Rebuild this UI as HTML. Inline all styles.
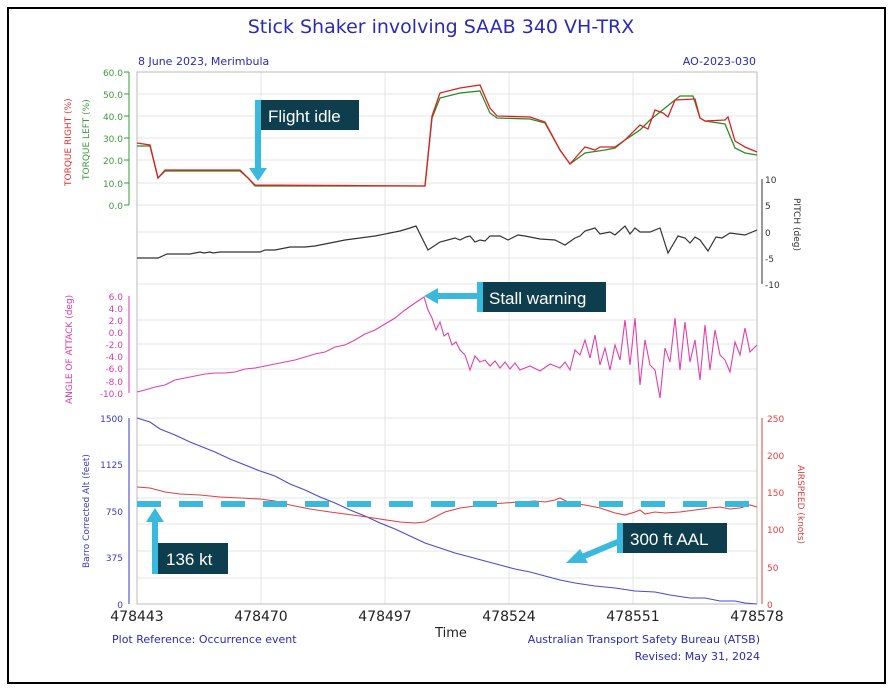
<!DOCTYPE html>
<html><head><style>
body{margin:0;background:#fff;}
svg text{font-family:"DejaVu Sans",sans-serif;}
svg text.ann{font-family:"Liberation Sans",sans-serif;}
</style></head><body>
<svg width="894" height="690" viewBox="0 0 894 690" xmlns="http://www.w3.org/2000/svg">
<rect x="0" y="0" width="894" height="690" fill="#fff"/>
<rect x="8" y="8" width="877" height="675" fill="none" stroke="#000" stroke-width="2"/>
<text x="441" y="33" font-size="19" fill="#2a2ab8" text-anchor="middle">Stick Shaker involving SAAB 340 VH-TRX</text>
<text x="138" y="65" font-size="11" fill="#2a2ab8">8 June 2023, Merimbula</text>
<text x="756" y="65" font-size="11" fill="#2a2ab8" text-anchor="end">AO-2023-030</text>
<g stroke="#e6e6e6" stroke-width="1">
<line x1="261" y1="72" x2="261" y2="604"/><line x1="385" y1="72" x2="385" y2="604"/>
<line x1="509" y1="72" x2="509" y2="604"/><line x1="633" y1="72" x2="633" y2="604"/>
<line x1="137" y1="94" x2="757" y2="94"/><line x1="137" y1="116" x2="757" y2="116"/><line x1="137" y1="138" x2="757" y2="138"/><line x1="137" y1="160" x2="757" y2="160"/><line x1="137" y1="183" x2="757" y2="183"/><line x1="137" y1="205" x2="757" y2="205"/>
<line x1="137" y1="232" x2="757" y2="232"/><line x1="137" y1="258" x2="757" y2="258"/><line x1="137" y1="284" x2="757" y2="284"/>
<line x1="137" y1="320" x2="757" y2="320"/><line x1="137" y1="344" x2="757" y2="344"/><line x1="137" y1="369" x2="757" y2="369"/>
<line x1="137" y1="418" x2="757" y2="418"/><line x1="137" y1="445" x2="757" y2="445"/><line x1="137" y1="471" x2="757" y2="471"/><line x1="137" y1="498" x2="757" y2="498"/><line x1="137" y1="524" x2="757" y2="524"/><line x1="137" y1="551" x2="757" y2="551"/><line x1="137" y1="578" x2="757" y2="578"/>
</g>
<rect x="137" y="72" width="620" height="532" fill="none" stroke="#bbb" stroke-width="1"/>
<g fill="#3a9a3a" font-size="9" text-anchor="end">
<text x="123" y="76">60.0</text><text x="123" y="98">50.0</text><text x="123" y="120">40.0</text><text x="123" y="142">30.0</text><text x="123" y="164">20.0</text><text x="123" y="187">10.0</text><text x="123" y="209">0.0</text>
</g>
<line x1="129" y1="72" x2="129" y2="205" stroke="#3a9a3a"/>
<g stroke="#3a9a3a"><line x1="124" y1="72" x2="129" y2="72"/><line x1="124" y1="94" x2="129" y2="94"/><line x1="124" y1="116" x2="129" y2="116"/><line x1="124" y1="138" x2="129" y2="138"/><line x1="124" y1="160" x2="129" y2="160"/><line x1="124" y1="183" x2="129" y2="183"/><line x1="124" y1="205" x2="129" y2="205"/></g>
<text transform="translate(89,180) rotate(-90)" font-size="9" fill="#3a9a3a">TORQUE LEFT (%)</text>
<text transform="translate(71,186) rotate(-90)" font-size="9" fill="#e03030">TORQUE RIGHT (%)</text>
<line x1="762" y1="179" x2="762" y2="284" stroke="#333"/>
<g font-size="9" fill="#333"><text x="765" y="183">10</text><text x="765" y="209">5</text><text x="765" y="236">0</text><text x="765" y="262">-5</text><text x="765" y="288">-10</text></g>
<text transform="translate(794,198) rotate(90)" font-size="9" fill="#333">PITCH (deg)</text>
<line x1="129" y1="296" x2="129" y2="393" stroke="#d63aa8"/>
<g font-size="9" fill="#d63aa8" text-anchor="end"><text x="123" y="300">6.0</text><text x="123" y="312">4.0</text><text x="123" y="324">2.0</text><text x="123" y="336">0.0</text><text x="123" y="348">-2.0</text><text x="123" y="360">-4.0</text><text x="123" y="372">-6.0</text><text x="123" y="385">-8.0</text><text x="123" y="397">-10.0</text></g>
<text transform="translate(72,404) rotate(-90)" font-size="9" fill="#d63aa8">ANGLE OF ATTACK (deg)</text>
<line x1="129" y1="418" x2="129" y2="604" stroke="#3a3ac0"/>
<g font-size="9" fill="#3a3ac0" text-anchor="end"><text x="123" y="422">1500</text><text x="123" y="468">1125</text><text x="123" y="515">750</text><text x="123" y="561">375</text><text x="123" y="608">0</text></g>
<text transform="translate(89,568) rotate(-90)" font-size="9" fill="#3a3ac0">Barro Corrected Alt (feet)</text>
<line x1="762" y1="418" x2="762" y2="604" stroke="#e04040"/>
<g font-size="9" fill="#e04040"><text x="767" y="422">250</text><text x="767" y="459">200</text><text x="767" y="496">150</text><text x="767" y="533">100</text><text x="767" y="571">50</text><text x="767" y="608">0</text></g>
<text transform="translate(798,465) rotate(90)" font-size="9" fill="#e04040">AIRSPEED (knots)</text>
<g font-size="14" fill="#222" text-anchor="middle"><text x="137" y="621">478443</text><text x="261" y="621">478470</text><text x="385" y="621">478497</text><text x="509" y="621">478524</text><text x="633" y="621">478551</text><text x="757" y="621">478578</text></g>
<text x="451" y="637" font-size="13" fill="#222" text-anchor="middle">Time</text>
<text x="112" y="643" font-size="11" fill="#2a2ab8">Plot Reference: Occurrence event</text>
<text x="760" y="643" font-size="11" fill="#2a2ab8" text-anchor="end">Australian Transport Safety Bureau (ATSB)</text>
<text x="760" y="660" font-size="11" fill="#2a2ab8" text-anchor="end">Revised: May 31, 2024</text>
<polyline fill="none" stroke="#2a8a2a" stroke-width="1.3" points="137,146 150,146 158,178 165,171 240,171 248,178 255,186 425,186 432,118 440,98 460,93 480,91 490,113 497,118 530,119 545,123 560,150 570,164 585,153 605,150 615,148 625,140 640,130 650,120 665,108 680,96 693,96 700,118 705,121 725,124 735,148 745,153 757,155"/>
<polyline fill="none" stroke="#e02020" stroke-width="1.3" points="137,143 150,145 158,178 165,170 240,170 248,178 255,185 425,186 432,116 440,93 460,88 480,85 490,108 497,116 530,117 545,122 560,150 570,164 585,147 595,150 600,147 615,147 625,140 640,125 648,129 655,110 663,113 668,117 675,100 695,99 700,118 705,121 725,120 728,117 735,141 745,147 757,152"/>
<polyline fill="none" stroke="#333" stroke-width="1.2" points="137,258 158,258 167,254 190,254 200,252 204,253 210,252 213,253 220,252 260,252 265,250 275,250 290,247 305,247 315,246 330,243 345,240 360,238 375,236 390,233 400,231 410,228 416,226 428,250 440,242 455,238 460,240 466,237 470,236 475,242 480,240 485,241 490,236 500,236 508,240 518,235 525,236 530,237 540,239 555,240 565,245 575,238 580,236 585,231 595,228 600,234 610,232 615,235 625,226 630,234 635,228 640,232 650,232 660,228 668,253 678,236 685,238 690,243 695,237 700,240 708,251 716,237 722,238 730,233 745,235 757,230"/>
<polyline fill="none" stroke="#e040a8" stroke-width="1.1" points="137,392 145,390 155,387 165,385 175,380 185,378 195,376 205,374 215,373 225,373 235,372 245,369 255,368 265,366 275,364 285,362 295,360 305,357 315,354 325,352 335,347 345,345 355,340 365,334 375,330 385,324 395,318 405,310 415,303 424,297 428,310 432,318 436,330 440,322 444,336 448,333 452,345 456,342 460,350 465,355 470,370 475,356 480,362 485,360 490,366 495,361 500,368 505,362 510,369 515,363 520,370 530,366 540,371 550,364 560,368 565,362 570,370 575,350 580,355 585,340 590,358 595,335 600,365 605,348 610,370 615,345 620,360 625,320 630,365 635,318 640,385 645,340 650,365 655,370 660,398 665,348 670,362 675,318 680,370 685,322 690,362 695,340 700,380 705,325 710,370 715,330 720,355 725,360 730,372 735,342 740,355 745,328 750,352 757,345"/>
<polyline fill="none" stroke="#4a4ad0" stroke-width="1.1" points="137,418 150,422 160,429 175,435 190,442 200,446 215,452 230,459 245,465 260,471 275,476 290,484 305,490 320,497 335,503 350,510 365,516 380,523 395,529 410,536 425,543 440,548 455,553 470,557 485,561 500,565 515,569 530,572 545,576 560,580 575,583 595,586 615,588 635,591 655,592 670,595 690,598 705,598 720,601 735,601 745,603 757,604"/>
<polyline fill="none" stroke="#e04040" stroke-width="1.1" points="137,487 150,488 165,492 180,494 200,495 220,497 240,498 260,499 275,501 290,505 310,509 330,512 345,514 360,516 380,519 400,522 415,523 425,522 435,517 445,512 460,508 475,506 490,504 505,503 520,502 535,501 545,502 555,500 560,498 570,503 585,505 600,508 615,513 625,515 635,512 640,510 645,514 655,512 665,513 680,512 695,510 710,508 720,507 730,509 740,508 750,505 757,507"/>
<line x1="137" y1="504" x2="757" y2="504" stroke="#3bb9dd" stroke-width="6" stroke-dasharray="24,18"/>
<rect x="255" y="100" width="6" height="70" fill="#3bb9dd"/>
<polygon points="249,168 267,168 258,181" fill="#3bb9dd"/>
<rect x="261" y="100" width="98" height="30" fill="#0e3d4d"/>
<text class="ann" x="268" y="122" font-size="17" fill="#fff">Flight idle</text>
<rect x="436" y="293" width="44" height="6" fill="#3bb9dd"/>
<polygon points="438,288 438,304 424,296" fill="#3bb9dd"/>
<rect x="477" y="282" width="6" height="30" fill="#3bb9dd"/>
<rect x="483" y="282" width="123" height="30" fill="#0e3d4d"/>
<text class="ann" x="489" y="304" font-size="17" fill="#fff">Stall warning</text>
<line x1="620" y1="541" x2="582" y2="557" stroke="#3bb9dd" stroke-width="6"/>
<polygon points="580,549 588,563 566,563" fill="#3bb9dd"/>
<rect x="617" y="523" width="6" height="30" fill="#3bb9dd"/>
<rect x="623" y="523" width="104" height="30" fill="#0e3d4d"/>
<text class="ann" x="630" y="545" font-size="17" fill="#fff">300 ft AAL</text>
<rect x="152" y="520" width="6" height="54" fill="#3bb9dd"/>
<polygon points="146,522 164,522 155,508" fill="#3bb9dd"/>
<rect x="158" y="543" width="70" height="31" fill="#0e3d4d"/>
<text class="ann" x="166" y="565" font-size="17" fill="#fff">136 kt</text>
</svg>
</body></html>
